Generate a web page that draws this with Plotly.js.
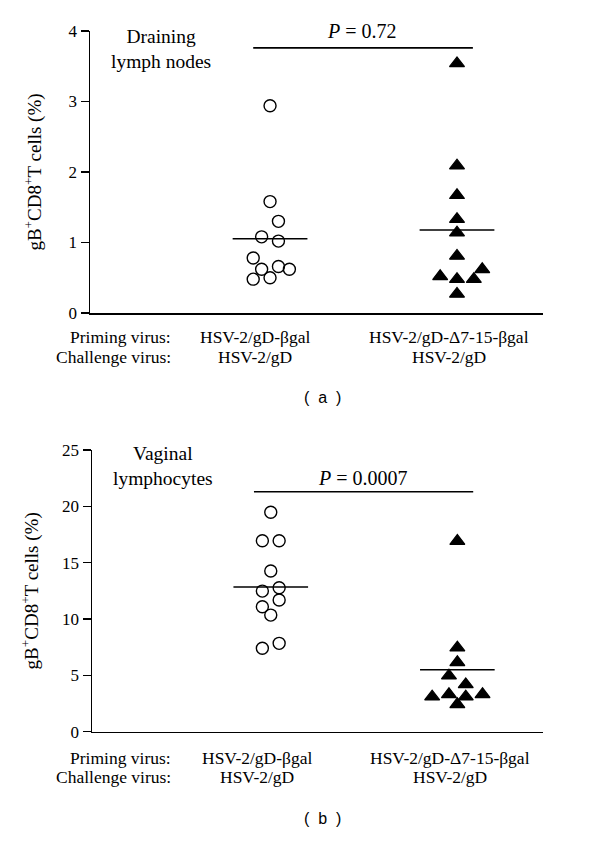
<!DOCTYPE html>
<html>
<head>
<meta charset="utf-8">
<script src="https://cdn.plot.ly/plotly-3.0.1.min.js"></script>
<style>html,body{margin:0;padding:0;background:#fff;}#chart{width:600px;height:842px;}</style>
</head>
<body>
<div id="chart"></div>
<script>
// ---- data ----
var categories = ["HSV-2/gD-βgal", "HSV-2/gD-Δ7-15-βgal"];
var challengeVirus = ["HSV-2/gD", "HSV-2/gD"];
var rowLabels = ["Priming virus:", "Challenge virus:"];
var panelTitles = ["Draining<br>lymph nodes", "Vaginal<br>lymphocytes"];
var pValues = ["0.72", "0.0007"];
var panelTags = ["(\u00a0\u00a0a\u00a0\u00a0)", "(\u00a0\u00a0b\u00a0\u00a0)"];

// Panel (a): draining lymph nodes (%)
var lnGdBgal = [2.94, 1.58, 1.30, 1.08, 1.02, 0.78, 0.62, 0.66, 0.62, 0.48, 0.50];
var lnGdDelta = [3.54, 2.09, 1.67, 1.33, 1.14, 0.81, 0.62, 0.52, 0.48, 0.48, 0.27];
// Panel (b): vaginal lymphocytes (%)
var vgGdBgal = [19.47, 16.95, 16.95, 14.26, 12.78, 12.48, 11.69, 11.09, 10.35, 7.40, 7.84];
var vgGdDelta = [16.92, 7.46, 6.16, 4.97, 4.20, 3.11, 3.32, 3.11, 3.32, 2.43];

// jitter columns (scatter-dot-plot spreading), in marker columns
var jitLnBgal = [0, 0, 1, -1, 1, -2, -1, 1, 2.3, -2, 0];
var jitLnDelta = [0, 0, 0, 0, 0, 0, 3, -2, 0, 2, 0];
var jitVgBgal = [0, -1, 1, 0, 1, -1, 1, -1, 0, -1, 1];
var jitVgDelta = [0, 0, 0, -1, 1, -3, -1, 1, 3, 0];

// ---- helpers ----
var COL = 0.045;
function mean(a){ return a.reduce(function(s,v){return s+v;},0)/a.length; }
function xs(center, jit){ return jit.map(function(j){ return center + j*COL; }); }

var serif = "Liberation Serif, Times New Roman, serif";
var sans = "Liberation Sans, Arial, sans-serif";

function circTrace(y, jit, xa, ya){
  return {x: xs(1, jit), y: y, xaxis: xa, yaxis: ya, type: "scatter", mode: "markers",
    cliponaxis: false, hoverinfo: "y",
    marker: {symbol: "circle-open", size: 12, color: "#000", line: {width: 1.4, color: "#000"}}};
}
function triTrace(y, jit, xa, ya){
  return {x: xs(2, jit), y: y, xaxis: xa, yaxis: ya, type: "scatter", mode: "markers",
    cliponaxis: false, hoverinfo: "y",
    marker: {symbol: "triangle-up", size: 13, color: "#000", line: {width: 1.2, color: "#000"}}};
}

var data = [
  circTrace(lnGdBgal, jitLnBgal, "x", "y"),
  triTrace(lnGdDelta, jitLnDelta, "x", "y"),
  circTrace(vgGdBgal, jitVgBgal, "x2", "y2"),
  triTrace(vgGdDelta, jitVgDelta, "x2", "y2")
];

function hline(xref, yref, x0, x1, y){
  return {type: "line", xref: xref, yref: yref, x0: x0, x1: x1, y0: y, y1: y,
    line: {color: "#000", width: 1.6}};
}
var shapes = [
  hline("x", "y", 0.8, 1.2, mean(lnGdBgal)),
  hline("x", "y", 1.8, 2.2, mean(lnGdDelta)),
  hline("x", "y", 0.91, 2.085, 3.76),
  hline("x2", "y2", 0.8, 1.2, mean(vgGdBgal)),
  hline("x2", "y2", 1.8, 2.2, mean(vgGdDelta)),
  hline("x2", "y2", 0.91, 2.085, 21.3)
];

function py(px){ return (842 - px) / 842; }
function px(p){ return p / 600; }
var annotations = [];
function txt(x, y, text, opts){
  var a = {xref: "paper", yref: "paper", x: px(x), y: py(y), text: text, showarrow: false,
    xanchor: "center", yanchor: "middle", font: {family: serif, size: 17.5, color: "#000"}};
  for (var k in opts) a[k] = opts[k];
  annotations.push(a);
}
var titleFont = {family: serif, size: 19.5, color: "#000"};
var pFont = {family: serif, size: 20, color: "#000"};
var tagFont = {family: sans, size: 16, color: "#000"};
// panel (a)
txt(161, 49, panelTitles[0], {font: titleFont});
txt(362, 31, "<i>P</i> = " + pValues[0], {font: pFont});
txt(173, 337.5, rowLabels[0], {xanchor: "right"});
txt(173, 356.5, rowLabels[1], {xanchor: "right"});
txt(255, 337.5, categories[0]);
txt(255, 356.5, challengeVirus[0]);
txt(449, 337.5, categories[1]);
txt(449, 356.5, challengeVirus[1]);
txt(322, 397, panelTags[0], {font: tagFont});
// panel (b)
txt(163, 466, panelTitles[1], {font: titleFont});
txt(363, 478, "<i>P</i> = " + pValues[1], {font: pFont});
txt(173, 757.5, rowLabels[0], {xanchor: "right"});
txt(173, 776.5, rowLabels[1], {xanchor: "right"});
txt(257, 757.5, categories[0]);
txt(257, 776.5, challengeVirus[0]);
txt(450, 757.5, categories[1]);
txt(450, 776.5, challengeVirus[1]);
txt(322, 818, panelTags[1], {font: tagFont});

var yTitle = "gB<sup>+</sup>CD8<sup>+</sup>T cells (%)";
function xAxis(domain, range, anchor){
  return {domain: domain, range: range, anchor: anchor, showline: true, linecolor: "#000",
    linewidth: 1.5, ticks: "", showticklabels: false, showgrid: false, zeroline: false, fixedrange: true};
}
function yAxis(domain, range, dtick, anchor, standoff){
  return {domain: domain, range: range, dtick: dtick, anchor: anchor, showline: true, linecolor: "#000",
    linewidth: 1.5, ticks: "outside", ticklen: 8, tickwidth: 1.5, tickcolor: "#000",
    showgrid: false, zeroline: false, fixedrange: true,
    tickfont: {family: serif, size: 17, color: "#000"},
    title: {text: yTitle, font: {family: serif, size: 19, color: "#000"}, standoff: standoff}};
}

var layout = {
  width: 600, height: 842, margin: {l: 0, r: 0, t: 0, b: 0},
  paper_bgcolor: "#fff", plot_bgcolor: "#fff", showlegend: false,
  xaxis: xAxis([px(90), px(543)], [0.037, 2.46], "y"),
  yaxis: yAxis([py(313), py(31)], [0, 4], 1, "x", 22),
  xaxis2: xAxis([px(92), px(543)], [0.042, 2.459], "y2"),
  yaxis2: yAxis([py(731.7), py(450)], [0, 25], 5, "x2", 18),
  shapes: shapes,
  annotations: annotations
};

Plotly.newPlot("chart", data, layout, {displayModeBar: false, staticPlot: true});
</script>
</body>
</html>
